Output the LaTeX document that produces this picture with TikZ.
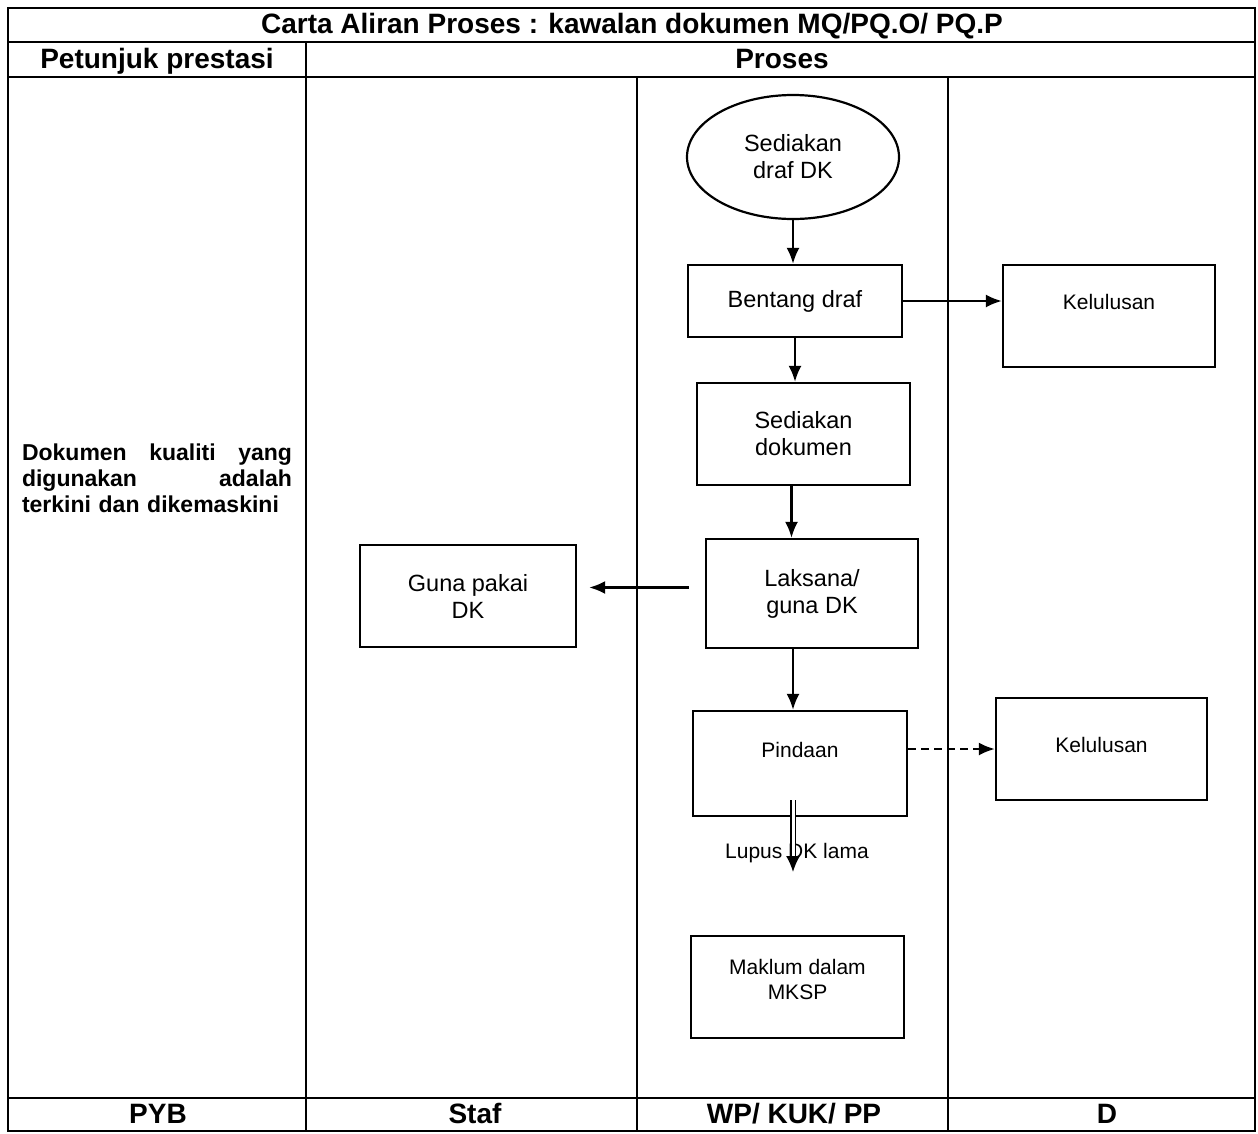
\documentclass[tikz,border=0pt]{standalone}
\usepackage{fontspec}
\setmainfont{Liberation Sans}
\usetikzlibrary{shapes.geometric,arrows.meta}

\tikzset{%
          frame line/.style={
            line width=2.2pt
          },
          head text/.style={
            font=\bfseries\fontsize{28}{32}\selectfont,
            text height=20pt,
            text depth=6pt
          },
          process box/.style={
            rectangle,
            draw,
            line width=2.2pt,
            align=center,
            font=\fontsize{23.5}{27}\selectfont
          },
          small box/.style={
            process box,
            font=\fontsize{21}{25}\selectfont
          },
          start ellipse/.style={
            ellipse,
            draw,
            line width=2.2pt,
            align=center,
            minimum width=212pt,
            minimum height=124pt,
            font=\fontsize{23.5}{27}\selectfont
          },
          flow/.style={
            draw,
            line width=2.4pt,
            -{Latex[length=16pt,width=13pt]}
          },
        }

\begin{document}
\begin{tikzpicture}[x=1pt, y=-1pt]
        \useasboundingbox (0,0) rectangle (1258,1133);

        % table frame
        \draw [frame line] (8,8) rectangle (1255,1131);
        \draw [frame line] (8,42) -- (1255,42);
        \draw [frame line] (8,77) -- (1255,77);
        \draw [frame line] (8,1098) -- (1255,1098);
        \draw [frame line] (306,42) -- (306,1131);
        \draw [frame line] (637,77) -- (637,1131);
        \draw [frame line] (948,77) -- (948,1131);

        \node [head text] (title) at (632,26) {Carta Aliran Proses : kawalan dokumen MQ/PQ.O/ PQ.P};
        \node [head text] (head-petunjuk) at (157,61) {Petunjuk prestasi};
        \node [head text] (head-proses) at (782,61) {Proses};

        \node [head text] (foot-pyb) at (158,1116) {PYB};
        \node [head text] (foot-staf) at (475,1116) {Staf};
        \node [head text] (foot-wp) at (794,1116) {WP/ KUK/ PP};
        \node [head text] (foot-d) at (1107,1116) {D};

        \node [text width=270pt, align=left, inner sep=0pt,
               font=\bfseries\fontsize{23}{26}\selectfont] (petunjuk) at (157,478)
              {Dokumen\hfill kualiti\hfill yang\\ digunakan\hfill adalah\\ terkini dan dikemaskini};

        % process
        \node [start ellipse] (sediakan-draf) at (793,157) {Sediakan\\ draf DK};
        \node [process box, minimum width=214pt, minimum height=72pt] (bentang) at (795,301) {Bentang draf};
        \node [small box, minimum width=212pt, minimum height=102pt, text depth=29pt] (kelulusan-1) at (1109,316) {Kelulusan};
        \node [process box, minimum width=213pt, minimum height=102pt] (sediakan-dok) at (803.5,434) {Sediakan\\ dokumen};
        \node [process box, minimum width=212pt, minimum height=109pt] (laksana) at (812,593.5) {Laksana/\\ guna DK};
        \node [process box, minimum width=216pt, minimum height=102pt] (guna-pakai) at (468,596) {Guna pakai\\ DK};
        \node [small box, minimum width=214pt, minimum height=105pt, text depth=28pt] (pindaan) at (800,763.5) {Pindaan};
        \node [small box, minimum width=211pt, minimum height=102pt, text depth=8pt] (kelulusan-2) at (1101.5,749) {Kelulusan};
        \node [small box, minimum width=213pt, minimum height=102pt, text depth=16pt] (maklum) at (797.5,987) {Maklum dalam\\ MKSP};

        \path [flow] (sediakan-draf.south) -- (sediakan-draf.south |- bentang.north);
        \path [flow] (bentang.south) -- (bentang.south |- sediakan-dok.north);
        \path [flow] (bentang.east) -- (bentang.east -| kelulusan-1.west);
        \path [flow] ([xshift=-12pt]sediakan-dok.south) -- ([xshift=-12pt]sediakan-dok.south |- laksana.north);
        \path [flow, shorten <=16pt, shorten >=12pt] ([yshift=6pt]laksana.west) -- ([yshift=6pt]laksana.west -| guna-pakai.east);
        \path [flow] ([xshift=-7pt]pindaan.north |- laksana.south) -- ([xshift=-7pt]pindaan.north);
        \path [flow, dashed, dash pattern=on 8pt off 5pt] (pindaan.east |- kelulusan-2.west) -- (kelulusan-2.west);

        % lupus
        \coordinate (lupus-start) at (793,800);
        \coordinate (lupus-end) at (793,872);
        \node [font=\fontsize{21}{24}\selectfont] (lupus) at (797,853) {Lupus DK lama};
        \draw [line width=1.6pt, double, double distance=3pt, -{Latex[length=16pt,width=14pt]}] (lupus-start) -- (lupus-end);

\end{tikzpicture}
\end{document}
